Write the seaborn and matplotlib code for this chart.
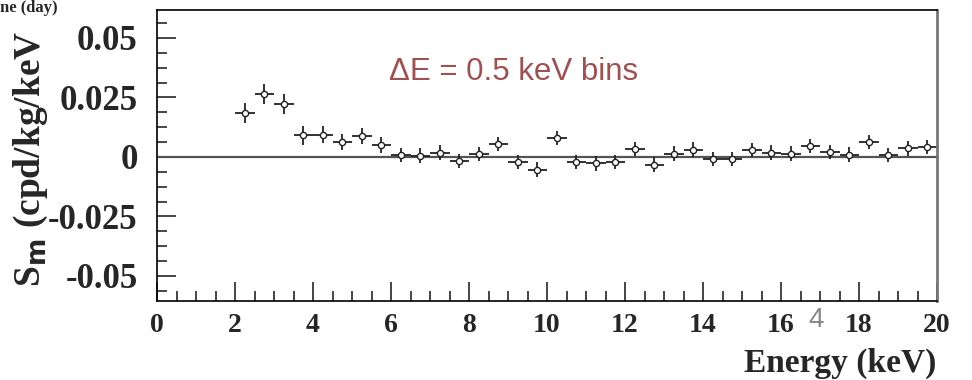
import matplotlib
matplotlib.use("Agg")
import matplotlib.pyplot as plt
import numpy as np
import pandas as pd
import seaborn as sns
from matplotlib.ticker import AutoMinorLocator, MultipleLocator

# bin centres (keV), modulation amplitude and errors
energy = [2.25, 2.75, 3.25, 3.75, 4.25, 4.75, 5.25, 5.75, 6.25, 6.75,
          7.25, 7.75, 8.25, 8.75, 9.25, 9.75, 10.25, 10.75, 11.25, 11.75,
          12.25, 12.75, 13.25, 13.75, 14.25, 14.75, 15.25, 15.75, 16.25, 16.75,
          17.25, 17.75, 18.25, 18.75, 19.25, 19.75]
sm = [0.0184, 0.0263, 0.0224, 0.0090, 0.0094, 0.0064, 0.0088, 0.0050, 0.0008, 0.0006,
      0.0018, -0.0018, 0.0013, 0.0053, -0.0020, -0.0053, 0.0078, -0.0020, -0.0027, -0.0022,
      0.0032, -0.0032, 0.0014, 0.0031, -0.0010, -0.0010, 0.0029, 0.0018, 0.0014, 0.0046,
      0.0022, 0.0010, 0.0062, 0.0008, 0.0036, 0.0042]
sm_err = [0.0042, 0.0042, 0.0042, 0.0038, 0.0036, 0.0034, 0.0032, 0.0032, 0.0030, 0.0030,
          0.0030, 0.0030, 0.0030, 0.0030, 0.0030, 0.0030, 0.0030, 0.0030, 0.0030, 0.0030,
          0.0030, 0.0030, 0.0030, 0.0030, 0.0030, 0.0030, 0.0030, 0.0030, 0.0030, 0.0030,
          0.0030, 0.0030, 0.0030, 0.0030, 0.0030, 0.0030]
bin_half = 0.25

df = pd.DataFrame({"energy": energy, "sm": sm, "err": sm_err})

sns.set_style("ticks")
serif = ["Liberation Serif", "DejaVu Serif"]
plt.rcParams["font.family"] = serif

fig = plt.figure(figsize=(9.72, 3.8), dpi=100)
ax = fig.add_axes([157 / 972, 1 - 301 / 380, (937 - 157) / 972, (301 - 10) / 380])

ax.axhline(0, color="#555555", lw=1.6, zorder=1)
ax.errorbar(df["energy"], df["sm"], xerr=bin_half, yerr=df["err"], fmt="none",
            ecolor="#222222", elinewidth=1.3, capsize=0, zorder=2)
sns.scatterplot(data=df, x="energy", y="sm", ax=ax, marker="o", s=20,
                facecolor="white", edgecolor="#222222", linewidth=1.0, zorder=3)

ax.set_xlim(0, 20)
ax.set_ylim(-0.0605, 0.0617)
ax.xaxis.set_major_locator(MultipleLocator(2))
ax.xaxis.set_minor_locator(AutoMinorLocator(4))
ax.yaxis.set_major_locator(MultipleLocator(0.025))
ax.yaxis.set_minor_locator(AutoMinorLocator(4))
ax.tick_params(axis="both", which="major", direction="in", length=14, width=1.2,
               top=False, right=False)
ax.tick_params(axis="both", which="minor", direction="in", length=7, width=1.2,
               top=False, right=False)
ax.tick_params(axis="x", which="major", pad=9)
ax.tick_params(axis="y", which="major", pad=14)
ax.set_xticks(np.arange(0, 21, 2))
ax.set_xticklabels([str(v) for v in range(0, 21, 2)], fontsize=20, fontweight="bold")
ax.set_yticks([-0.05, -0.025, 0, 0.025, 0.05])
ax.set_yticklabels(["-0.05", "-0.025", "0", "0.025", "0.05"], fontsize=25, fontweight="bold")
ax.set_xlabel("")
ax.set_ylabel("")
for side in ["left", "bottom", "top"]:
    ax.spines[side].set_color("black")
    ax.spines[side].set_linewidth(1.2)
ax.spines["right"].set_color("#777777")
ax.spines["right"].set_linewidth(2)

fig.text(0.963, 0.003, "Energy (keV)", ha="right", va="bottom", fontsize=24,
         fontweight="bold")
fig.text(0.012, 1 - 287 / 380, "S$_\\mathbf{m}$ (cpd/kg/keV", rotation=90, ha="left",
         va="bottom", fontsize=27, fontweight="bold")
fig.text(0.0, 0.999, "ne (day)", ha="left", va="top", fontsize=12, fontweight="bold")
ax.text(0.298, 0.758, "\u0394E = 0.5 keV bins", transform=ax.transAxes,
        fontsize=22.5, color="#A0504F", family=["Liberation Sans", "DejaVu Sans"])
fig.text(808 / 972, 1 - 327 / 380, "4", fontsize=20, color="#888888",
         family=["Liberation Sans", "DejaVu Sans"])

fig.savefig("out.png", dpi=100)
plt.close(fig)
